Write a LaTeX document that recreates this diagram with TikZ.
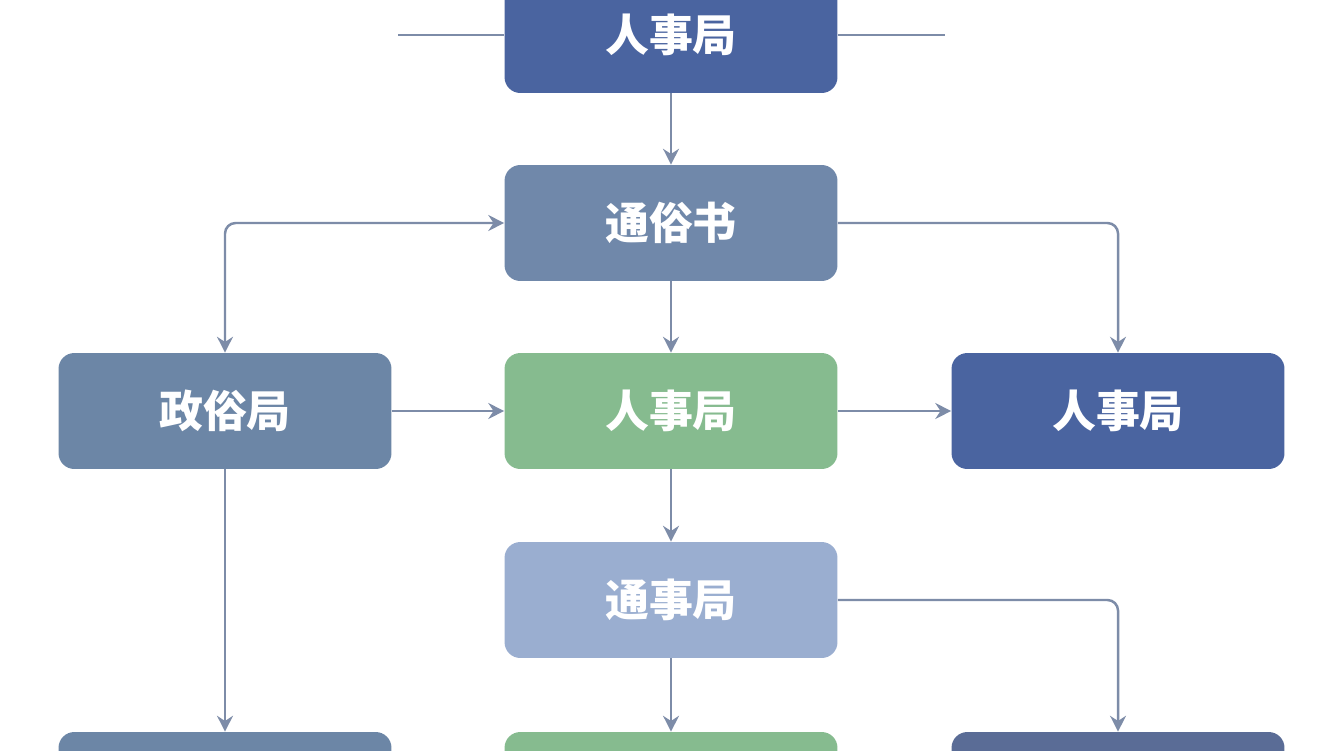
\documentclass[tikz,border=0pt]{standalone}
\usepackage{fontspec}
\newfontfamily\cjk{Noto Sans CJK SC}
\usetikzlibrary{calc,arrows.meta}
\definecolor{navy}{HTML}{4A64A0}
\definecolor{steel}{HTML}{7088AA}
\definecolor{slate}{HTML}{6C86A6}
\definecolor{sage}{HTML}{86BB8F}
\definecolor{pale}{HTML}{9AAED0}
\definecolor{wire}{HTML}{7D8CA8}
\begin{document}
\begin{tikzpicture}[x=0.02cm,y=-0.02cm,
	box/.style={rounded corners=9pt, minimum width=6.66cm, minimum height=2.32cm, text=white, font=\cjk\bfseries\fontsize{25}{30}\selectfont},
	link/.style={draw=wire, line width=1.4pt},
	arr/.style={link, -{Stealth[length=9pt,width=9pt]}}]
	\useasboundingbox (0,0) rectangle (1344,750);
	\clip (0,0) rectangle (1344,750);
	\fill[white] (0,0) rectangle (1344,750);
	
	% boxes
	\node[box, fill=navy] (top) at (671,35) {人事局};
	\node[box, fill=steel] (book) at (671,223) {通俗书};
	\node[box, fill=slate] (left) at (225,411) {政俗局};
	\node[box, fill=sage] (mid) at (671,411) {人事局};
	\node[box, fill=navy] (right) at (1118,411) {人事局};
	\node[box, fill=pale] (tong) at (671,600) {通事局};
	\node[box, fill=slate] (bl) at (225,790) {};
	\node[box, fill=sage] (bm) at (671,790) {};
	\node[box, fill=navy!70!gray] (br) at (1118,790) {};
	
	% side lines
	\coordinate (tl) at (398,35);
	\coordinate (tr) at (945,35);
	\draw[link] (tl) -- (top.west);
	\draw[link] (top.east) -- (tr);
	
	% connectors
	\draw[arr] (top) -- (book);
	\draw[arr] (book) -- (mid);
	\draw[link, {Stealth[length=9pt,width=9pt]}-{Stealth[length=9pt,width=9pt]}, rounded corners=6pt] (book.west) -| (left.north);
	\draw[arr, rounded corners=6pt] (book.east) -| (right.north);
	\draw[arr] (left) -- (mid);
	\draw[arr] (mid) -- (right);
	\draw[arr] (mid) -- (tong);
	\draw[arr] (left) -- (bl);
	\draw[arr] (tong) -- (bm);
	\draw[arr, rounded corners=6pt] (tong.east) -| (br.north);
\end{tikzpicture}
\end{document}
